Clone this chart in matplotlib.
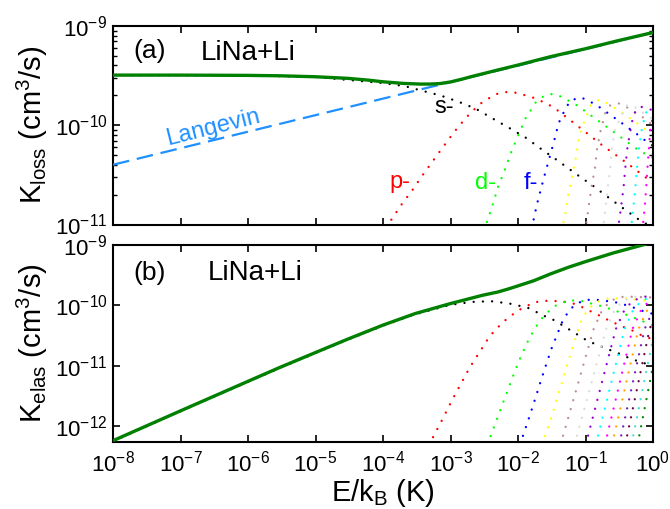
import matplotlib
matplotlib.use('Agg')
import matplotlib.pyplot as plt
from matplotlib.ticker import LogLocator, NullLocator, NullFormatter

plt.rcParams['font.family'] = ['Liberation Sans', 'DejaVu Sans']
plt.rcParams['mathtext.fontset'] = 'custom'
plt.rcParams['mathtext.rm'] = 'Liberation Sans'
plt.rcParams['mathtext.it'] = 'Liberation Sans:italic'
plt.rcParams['mathtext.bf'] = 'Liberation Sans:bold'
plt.rcParams['mathtext.default'] = 'regular'
plt.rcParams['axes.unicode_minus'] = False

# ---------------- panel (a): loss rates ----------------
loss_total_E = [1e-8, 1e-7, 1e-6, 3e-6, 1e-5, 3e-5, 6e-5, 1e-4, 2e-4, 3.5e-4, 5e-4,
                7e-4, 1e-3, 1.5e-3, 2e-3, 3e-3, 5e-3, 1e-2, 3e-2, 1e-1, 3e-1, 1.0]
loss_total_K = [3.2e-10, 3.2e-10, 3.18e-10, 3.15e-10, 3.08e-10, 2.97e-10, 2.85e-10,
                2.74e-10, 2.64e-10, 2.6e-10, 2.6e-10, 2.63e-10, 2.73e-10, 2.92e-10,
                3.08e-10, 3.3e-10, 3.6e-10, 4.04e-10, 4.9e-10, 5.9e-10, 7.1e-10, 8.6e-10]

langevin_E = [1e-8, 1.0]
langevin_K = [4.0e-11, 8.6e-10]

loss_E = [
    # s
    [1e-8, 1e-6, 1e-5, 1e-4, 2.1e-4, 2.8e-4, 5.3e-4, 7.2e-4, 1.36e-3, 2.4e-3, 4.2e-3,
     7.4e-3, 1.3e-2, 2.1e-2, 3.7e-2, 7.9e-2, 0.135, 0.226, 0.38, 0.63, 1.0],
    # p
    [8e-5, 1.19e-4, 2.06e-4, 2.53e-4, 3.65e-4, 5.3e-4, 7.7e-4, 1.14e-3, 1.71e-3, 2.7e-3,
     4.6e-3, 7.0e-3, 8.6e-3, 1.58e-2, 2.7e-2, 3.66e-2, 6.2e-2, 0.103, 0.176, 0.295, 0.49,
     0.82, 1.0],
    # d
    [3.0e-3, 3.41e-3, 4.13e-3, 5.07e-3, 6.35e-3, 7.7e-3, 9.9e-3, 1.29e-2, 1.82e-2, 2.4e-2,
     3.27e-2, 4.4e-2, 7.8e-2, 0.132, 0.221, 0.37, 0.62, 1.0],
    # f
    [1.4e-2, 1.66e-2, 1.9e-2, 2.4e-2, 2.95e-2, 3.4e-2, 4.0e-2, 5.2e-2, 6.3e-2, 8.7e-2,
     0.117, 0.153, 0.263, 0.34, 0.44, 0.57, 0.73, 1.0],
    # g
    [4.0e-2, 4.62e-2, 5.0e-2, 5.5e-2, 6.3e-2, 7.1e-2, 7.9e-2, 9.4e-2, 0.12, 0.157, 0.215,
     0.277, 0.36, 0.46, 0.6, 0.77, 1.0],
    # h
    [8.5e-2, 0.103, 0.112, 0.123, 0.138, 0.148, 0.166, 0.197, 0.234, 0.31, 0.414, 0.537,
     0.71, 0.91, 1.0],
    # i
    [0.16, 0.185, 0.2, 0.215, 0.233, 0.245, 0.27, 0.31, 0.414, 0.55, 0.71, 0.91, 1.0],
    # j
    [0.28, 0.31, 0.34, 0.367, 0.39, 0.414, 0.437, 0.49, 0.537, 0.65, 0.9, 1.0],
    # k
    [0.42, 0.48, 0.516, 0.55, 0.58, 0.617, 0.676, 0.776, 0.9, 1.0],
    # l
    [0.62, 0.71, 0.76, 0.794, 0.83, 0.87, 0.91, 1.0],
]
loss_K = [
    [3.2e-10, 3.18e-10, 3.06e-10, 2.66e-10, 2.48e-10, 2.35e-10, 2.1e-10, 1.99e-10,
     1.71e-10, 1.46e-10, 1.17e-10, 9.4e-11, 7.5e-11, 5.9e-11, 4.5e-11, 3.1e-11, 2.4e-11,
     1.84e-11, 1.42e-11, 1.11e-11, 9.3e-12],
    [6.5e-12, 1.0e-11, 1.74e-11, 2.06e-11, 2.98e-11, 4.23e-11, 6.0e-11, 8.6e-11, 1.2e-10,
     1.63e-10, 2.05e-10, 2.17e-10, 2.15e-10, 1.93e-10, 1.65e-10, 1.45e-10, 1.1e-10,
     8.4e-11, 6.3e-11, 4.9e-11, 3.8e-11, 2.9e-11, 2.6e-11],
    [7e-12, 1.03e-11, 1.51e-11, 2.4e-11, 3.54e-11, 5.1e-11, 7.7e-11, 1.17e-10, 1.69e-10,
     1.97e-10, 2.07e-10, 1.94e-10, 1.56e-10, 1.2e-10, 9.3e-11, 7.2e-11, 5.55e-11, 4.7e-11],
    [6e-12, 1.03e-11, 1.58e-11, 2.9e-11, 4.8e-11, 6.8e-11, 1.05e-10, 1.54e-10, 1.8e-10,
     1.9e-10, 1.73e-10, 1.56e-10, 1.2e-10, 1.06e-10, 9.3e-11, 8.2e-11, 7.2e-11, 6.2e-11],
    [7e-12, 1.0e-11, 1.26e-11, 1.94e-11, 2.98e-11, 4.5e-11, 7e-11, 1.06e-10, 1.6e-10,
     1.8e-10, 1.66e-10, 1.48e-10, 1.32e-10, 1.17e-10, 1.03e-10, 9.1e-11, 8.2e-11],
    [7e-12, 1.03e-11, 1.55e-11, 2.4e-11, 3.7e-11, 5.7e-11, 8.6e-11, 1.34e-10, 1.6e-10,
     1.66e-10, 1.51e-10, 1.34e-10, 1.2e-10, 1.05e-10, 1.0e-10],
    [7e-12, 1.0e-11, 1.58e-11, 2.4e-11, 3.8e-11, 5.7e-11, 8.8e-11, 1.09e-10, 1.6e-10,
     1.51e-10, 1.34e-10, 1.2e-10, 1.15e-10],
    [7e-12, 1.0e-11, 1.58e-11, 2.4e-11, 3.8e-11, 5.7e-11, 7.1e-11, 1.09e-10, 1.34e-10,
     1.54e-10, 1.45e-10, 1.4e-10],
    [7e-12, 1.0e-11, 1.58e-11, 2.4e-11, 3.8e-11, 5.7e-11, 8.8e-11, 1.32e-10, 1.5e-10,
     1.52e-10],
    [7e-12, 1.0e-11, 1.58e-11, 2.4e-11, 3.8e-11, 5.9e-11, 9e-11, 1.25e-10],
]

# ---------------- panel (b): elastic rates ----------------
elas_total_E = [1e-8, 1e-7, 1e-6, 3e-6, 1e-5, 3e-5, 1e-4, 3e-4, 1e-3, 3e-3, 5e-3,
                7e-3, 1e-2, 1.7e-2, 3e-2, 5.5e-2, 1e-1, 0.26, 0.7, 1.0]
elas_total_K = [5.7e-13, 1.78e-12, 5.5e-12, 9.4e-12, 1.65e-11, 2.75e-11, 4.7e-11,
                7.3e-11, 1.07e-10, 1.47e-10, 1.66e-10, 1.85e-10, 2.1e-10, 2.55e-10,
                3.3e-10, 4.25e-10, 5.3e-10, 7.4e-10, 1.0e-9, 1.12e-9]

elas_E = [
    # s
    [1e-8, 1e-7, 1e-6, 3e-6, 1e-5, 3e-5, 1e-4, 3e-4, 1e-3, 2.1e-3, 4e-3, 7.5e-3, 1.4e-2,
     2.5e-2, 3.4e-2, 5.9e-2, 0.1, 0.136, 0.186, 0.25, 0.33, 0.44, 0.58, 0.78, 1.0],
    # p
    [4.1e-4, 5.74e-4, 7.76e-4, 1.03e-3, 1.4e-3, 1.9e-3, 2.7e-3, 3.8e-3, 5.9e-3, 9.8e-3,
     1.7e-2, 2.4e-2, 4.3e-2, 6.2e-2, 8.3e-2, 0.11, 0.148, 0.197, 0.27, 0.36, 0.48, 0.63,
     0.85, 1.0],
    # d
    [3.16e-3, 4.0e-3, 5.0e-3, 7.1e-3, 8.8e-3, 1.12e-2, 1.48e-2, 2.04e-2, 2.5e-2, 3.18e-2,
     4.0e-2, 5.75e-2, 7.8e-2, 0.16, 0.25, 0.36, 0.65, 0.865, 1.0],
    # f
    [9.8e-3, 1.21e-2, 1.48e-2, 1.82e-2, 2.19e-2, 2.69e-2, 3.3e-2, 3.8e-2, 4.27e-2, 4.8e-2,
     5.75e-2, 7.2e-2, 9.8e-2, 0.132, 0.263, 0.34, 0.45, 0.72, 1.0],
    # g
    [2.04e-2, 2.57e-2, 3.18e-2, 3.8e-2, 4.17e-2, 4.6e-2, 5.5e-2, 6.1e-2, 6.7e-2, 8.1e-2,
     9.1e-2, 0.112, 0.148, 0.221, 0.4, 0.7, 1.0],
    # h
    [0.0391, 0.0512, 0.0923, 0.1315, 0.1734, 0.234, 0.371, 1.0],
    # i
    [0.0635, 0.082, 0.1439, 0.2018, 0.266, 0.359, 0.569, 1.0],
    # j
    [0.0931, 0.1189, 0.2032, 0.2805, 0.370, 0.499, 0.791, 1.0],
    # k
    [0.1318, 0.1667, 0.278, 0.378, 0.499, 0.673, 1.0],
    # l
    [0.1807, 0.226, 0.369, 0.495, 0.653, 0.881, 1.0],
    # m
    [0.2312, 0.2864, 0.458, 0.608, 0.802, 1.0],
    # n
    [0.2958, 0.363, 0.570, 0.748, 1.0],
    # o
    [0.364, 0.4436, 0.685, 0.889, 1.0],
    # q
    [0.45, 0.545, 0.828, 1.0],
    # r
    [0.556, 0.668, 1.0],
]
elas_K = [
    [5.6e-13, 1.76e-12, 5.4e-12, 9.2e-12, 1.62e-11, 2.7e-11, 4.6e-11, 7.1e-11, 1.02e-10,
     1.14e-10, 1.17e-10, 1.07e-10, 9.1e-11, 6.6e-11, 5.7e-11, 3.9e-11, 2.7e-11, 2.3e-11,
     2.0e-11, 1.75e-11, 1.55e-11, 1.34e-11, 1.2e-11, 1.08e-11, 1.0e-11],
    [3.5e-13, 7.1e-13, 1.35e-12, 2.55e-12, 4.8e-12, 9.1e-12, 1.68e-11, 3.07e-11, 5.2e-11,
     8.1e-11, 1.11e-10, 1.19e-10, 1.17e-10, 1.1e-10, 9.7e-11, 8.3e-11, 7.1e-11, 6.0e-11,
     5.1e-11, 4.4e-11, 3.9e-11, 3.3e-11, 2.9e-11, 2.75e-11],
    [3.5e-13, 7.2e-13, 1.4e-12, 4.0e-12, 7.6e-12, 1.48e-11, 2.9e-11, 5.3e-11, 6.9e-11,
     8.9e-11, 1.07e-10, 1.19e-10, 1.22e-10, 9.9e-11, 8.5e-11, 7.3e-11, 5.7e-11, 4.9e-11,
     4.6e-11],
    [3.5e-13, 7.4e-13, 1.44e-12, 2.95e-12, 5.7e-12, 1.15e-11, 2.26e-11, 3.2e-11, 4.7e-11,
     6.0e-11, 8.3e-11, 1.05e-10, 1.22e-10, 1.25e-10, 1.14e-10, 1.06e-10, 9.7e-11, 8.0e-11,
     7.2e-11],
    [3.5e-13, 7.2e-13, 1.45e-12, 2.95e-12, 4.1e-12, 5.7e-12, 1.15e-11, 1.62e-11, 2.3e-11,
     4.5e-11, 6.3e-11, 8.9e-11, 1.14e-10, 1.3e-10, 1.3e-10, 1.22e-10, 1.15e-10],
    [3.5e-13, 1e-12, 1e-11, 4e-11, 8e-11, 1.2e-10, 1.4e-10, 1.35e-10],
    [3.5e-13, 1e-12, 1e-11, 4e-11, 8e-11, 1.2e-10, 1.4e-10, 1.42e-10],
    [3.5e-13, 1e-12, 1e-11, 4e-11, 8e-11, 1.2e-10, 1.4e-10, 1.45e-10],
    [3.5e-13, 1e-12, 1e-11, 4e-11, 8e-11, 1.2e-10, 1.4e-10],
    [3.5e-13, 1e-12, 1e-11, 4e-11, 8e-11, 1.2e-10, 1.3e-10],
    [3.5e-13, 1e-12, 1e-11, 4e-11, 8e-11, 1.05e-10],
    [3.5e-13, 1e-12, 1e-11, 4e-11, 8.2e-11],
    [3.5e-13, 1e-12, 1e-11, 4e-11, 5.6e-11],
    [3.5e-13, 1e-12, 1e-11, 2.8e-11],
    [3.5e-13, 1e-12, 9.9e-12],
]

wave_colors = ['#000000', '#ff0000', '#00ff00', '#0000ff', '#ffff00', '#bc8f8f',
               '#dcdcdc', '#9400d3', '#00ffff', '#ff00ff', '#ffa500', '#7221bc',
               '#670748', '#40e0d0', '#008b00']
total_color = '#008000'
langevin_color = '#1e90ff'

x_ticks = [1e-8, 1e-7, 1e-6, 1e-5, 1e-4, 1e-3, 1e-2, 1e-1, 1e0]
top_yticks = [1e-11, 1e-10, 1e-9]
bot_yticks = [1e-12, 1e-11, 1e-10, 1e-9]

fig = plt.figure(figsize=(6.7, 5.09), dpi=100)
ax1 = fig.add_axes([113 / 670, 1 - 224.5 / 509, 540 / 670, 198.5 / 509])
ax2 = fig.add_axes([113 / 670, 1 - 442.3 / 509, 540 / 670, 197.3 / 509])

dot_kw = dict(lw=1.7, ls=(0, (0.01, 3.9)), dash_capstyle='round')

for E, K, c in zip(loss_E, loss_K, wave_colors):
    ax1.plot(E, K, color=c, zorder=2, **dot_kw)
ax1.plot(langevin_E, langevin_K, color=langevin_color, lw=1.6,
         ls=(0, (7.5, 3.5)), zorder=3)
ax1.plot(loss_total_E, loss_total_K, color=total_color, lw=2.4, zorder=4,
         solid_capstyle='butt', solid_joinstyle='round')

for E, K, c in zip(elas_E, elas_K, wave_colors):
    ax2.plot(E, K, color=c, zorder=2, **dot_kw)
ax2.plot(elas_total_E, elas_total_K, color=total_color, lw=2.4, zorder=4,
         solid_capstyle='butt', solid_joinstyle='round')

for ax in (ax1, ax2):
    ax.set_xscale('log')
    ax.set_yscale('log')
    ax.set_xlim(1e-8, 1.0)
    ax.set_xticks(x_ticks)
    ax.xaxis.set_minor_locator(NullLocator())
    for s in ax.spines.values():
        s.set_linewidth(1.5)
    ax.tick_params(which='both', direction='in', top=True, right=True,
                   labelsize=16)
    ax.tick_params(which='major', length=5, width=1.2, pad=4)
    ax.tick_params(which='minor', length=2.6, width=1.0)
    ax.tick_params(axis='x', pad=6)

ax1.set_ylim(1e-11, 1e-9)
ax1.set_yticks(top_yticks)
ax1.yaxis.set_minor_locator(LogLocator(base=10, subs=[2, 3, 4, 5, 6, 7, 8, 9], numticks=20))
ax1.yaxis.set_minor_formatter(NullFormatter())
ax1.tick_params(axis='x', labelbottom=False)

ax2.set_ylim(5.36e-13, 1e-9)
ax2.set_yticks(bot_yticks)
ax2.yaxis.set_minor_locator(NullLocator())

ax1.set_ylabel('K$_{loss}$ (cm$^3$/s)', fontsize=21)
ax2.set_ylabel('K$_{elas}$ (cm$^3$/s)', fontsize=21)
ax1.yaxis.set_label_coords(-0.117, 0.5)
ax2.yaxis.set_label_coords(-0.117, 0.5)
ax2.set_xlabel('E/k$_B$ (K)', fontsize=21, labelpad=0)

ax1.text(0.0685, 0.874, '(a)', transform=ax1.transAxes, fontsize=19,
         ha='center', va='center')
ax1.text(0.25, 0.864, 'LiNa+Li', transform=ax1.transAxes, fontsize=20,
         ha='center', va='center')
ax1.text(0.185, 0.486, 'Langevin', transform=ax1.transAxes, fontsize=17,
         ha='center', va='center', rotation=14, color=langevin_color)
ax1.text(0.613, 0.592, 's-', transform=ax1.transAxes, fontsize=17,
         ha='center', va='center', color=wave_colors[0])
ax1.text(0.531, 0.214, 'p-', transform=ax1.transAxes, fontsize=17,
         ha='center', va='center', color=wave_colors[1])
ax1.text(0.689, 0.209, 'd-', transform=ax1.transAxes, fontsize=17,
         ha='center', va='center', color=wave_colors[2])
ax1.text(0.774, 0.209, 'f-', transform=ax1.transAxes, fontsize=17,
         ha='center', va='center', color=wave_colors[3])

ax2.text(0.0685, 0.858, '(b)', transform=ax2.transAxes, fontsize=19,
         ha='center', va='center')
ax2.text(0.263, 0.858, 'LiNa+Li', transform=ax2.transAxes, fontsize=20,
         ha='center', va='center')

fig.savefig('out.png', dpi=100)
